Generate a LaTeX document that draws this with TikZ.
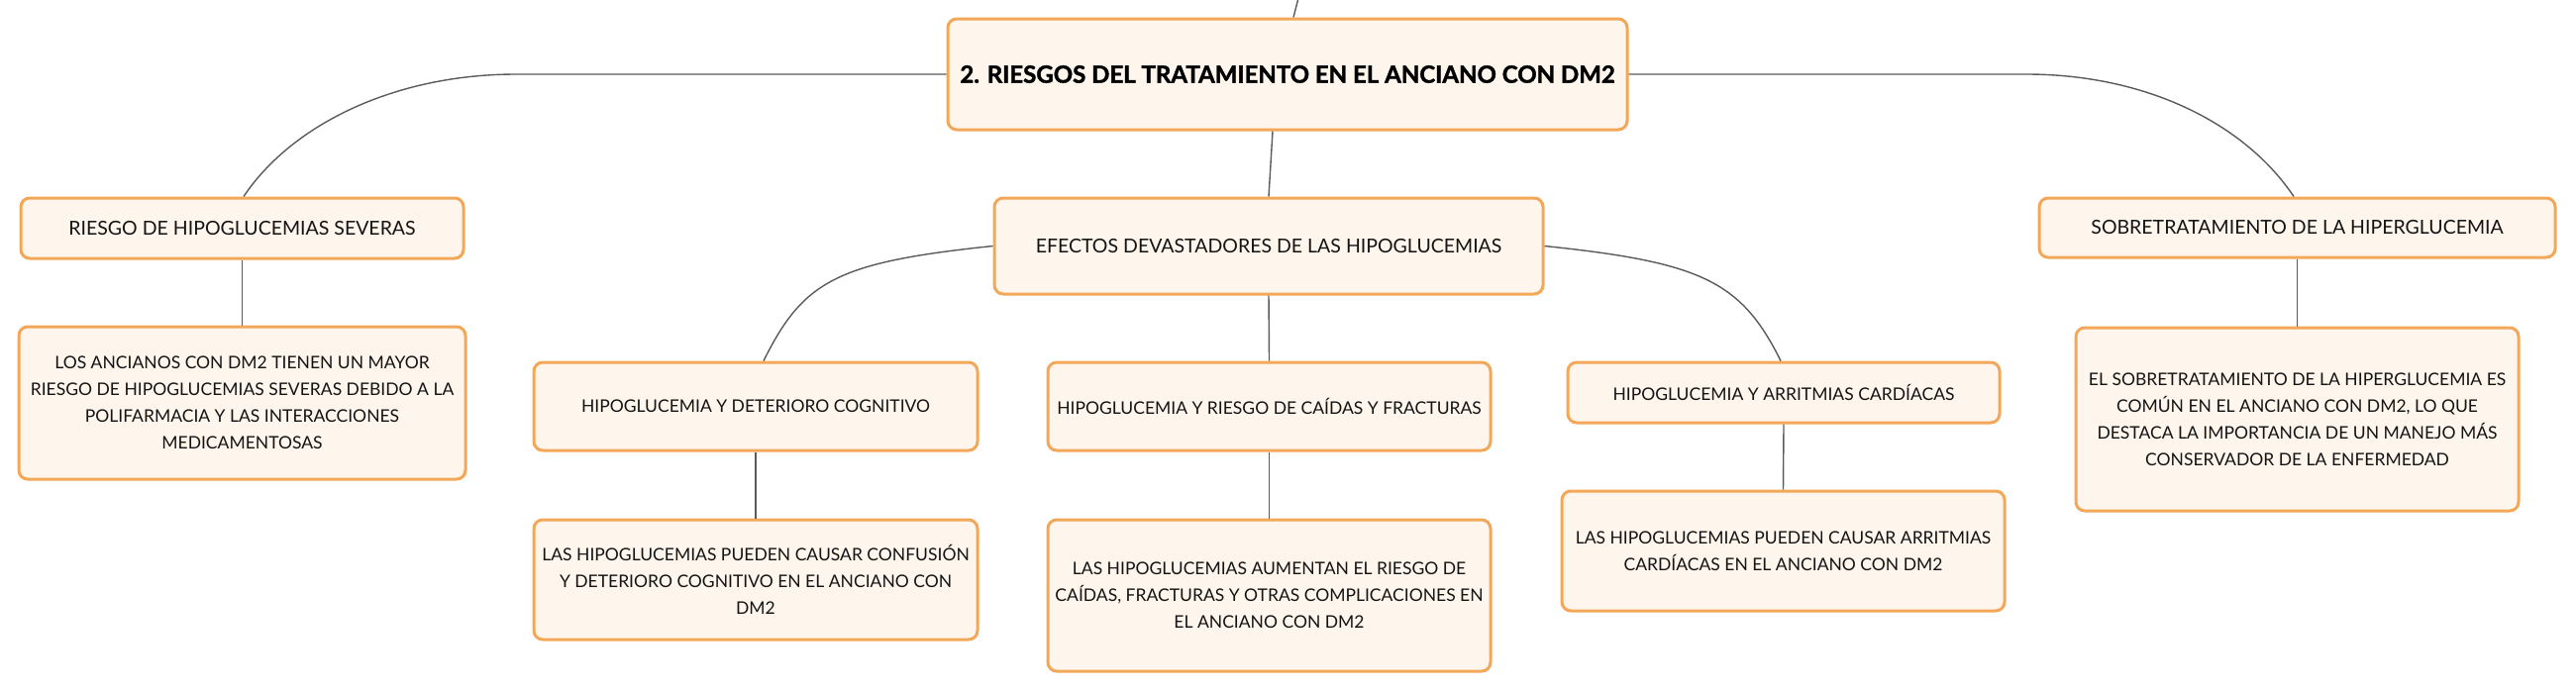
\documentclass[tikz,border=0pt]{standalone}
\usepackage{fontspec}
\setmainfont{Lato}
\definecolor{boxborder}{RGB}{243,167,88}
\definecolor{boxfill}{RGB}{254,245,236}
\definecolor{linegray}{RGB}{90,90,90}
\definecolor{txt}{RGB}{20,20,20}
\begin{document}
\begin{tikzpicture}[x=1pt,y=-1pt,
  box/.style={draw=boxborder, fill=boxfill, line width=3pt, rounded corners=9pt,
    inner sep=0pt, align=center, text=txt, font=\fontsize{17.5}{27}\selectfont},
  midbox/.style={box, font=\fontsize{19.5}{27}\selectfont},
  titlebox/.style={box, text=black, font=\fontsize{24}{28}\selectfont\bfseries\addfontfeature{FakeBold=1.6}},
  conn/.style={draw=linegray, line width=1.4pt}]
\useasboundingbox (0,0) rectangle (2601,699);

\node[titlebox, minimum width=686pt, minimum height=112pt] (main) at (1300,75)
  {2. RIESGOS DEL TRATAMIENTO EN EL ANCIANO CON DM2};
\node[midbox, minimum width=447pt, minimum height=61pt] (riesgo) at (244.5,230.5)
  {RIESGO DE HIPOGLUCEMIAS SEVERAS};
\node[box, minimum width=451pt, minimum height=154pt] (ancianos) at (244.5,407)
  {LOS ANCIANOS CON DM2 TIENEN UN MAYOR\\RIESGO DE HIPOGLUCEMIAS SEVERAS DEBIDO A LA\\POLIFARMACIA Y LAS INTERACCIONES\\MEDICAMENTOSAS};
\node[midbox, minimum width=554pt, minimum height=97pt] (efectos) at (1281,248.5)
  {EFECTOS DEVASTADORES DE LAS HIPOGLUCEMIAS};
\node[box, minimum width=448pt, minimum height=89pt] (deterioro) at (763,410.5)
  {HIPOGLUCEMIA Y DETERIORO COGNITIVO};
\node[box, minimum width=448pt, minimum height=121pt] (confusion) at (763,585.5)
  {LAS HIPOGLUCEMIAS PUEDEN CAUSAR CONFUSIÓN\\Y DETERIORO COGNITIVO EN EL ANCIANO CON\\DM2};
\node[box, minimum width=447pt, minimum height=89pt] (caidas) at (1281.5,410.5)
  {HIPOGLUCEMIA Y RIESGO DE CAÍDAS Y FRACTURAS};
\node[box, minimum width=447pt, minimum height=153pt] (aumentan) at (1281.5,601.5)
  {LAS HIPOGLUCEMIAS AUMENTAN EL RIESGO DE\\CAÍDAS, FRACTURAS Y OTRAS COMPLICACIONES EN\\EL ANCIANO CON DM2};
\node[box, minimum width=436pt, minimum height=61pt] (arritmias) at (1801,396.5)
  {HIPOGLUCEMIA Y ARRITMIAS CARDÍACAS};
\node[box, minimum width=447pt, minimum height=121pt] (arrtext) at (1800.5,556.5)
  {LAS HIPOGLUCEMIAS PUEDEN CAUSAR ARRITMIAS\\CARDÍACAS EN EL ANCIANO CON DM2};
\node[midbox, minimum width=521pt, minimum height=60pt] (sobre) at (2319.5,230)
  {SOBRETRATAMIENTO DE LA HIPERGLUCEMIA};
\node[box, minimum width=447pt, minimum height=185pt] (elsobre) at (2319.5,423.5)
  {EL SOBRETRATAMIENTO DE LA HIPERGLUCEMIA ES\\COMÚN EN EL ANCIANO CON DM2, LO QUE\\DESTACA LA IMPORTANCIA DE UN MANEJO MÁS\\CONSERVADOR DE LA ENFERMEDAD};

% connectors
\coordinate (up) at (1311,-2);
\draw[conn] (up) -- ([xshift=6pt]main.north);
\draw[conn] ([xshift=-15pt]main.south) -- (efectos.north);
\draw[conn] (main.west) -- (521,75) .. controls (401,75) and (296,124) .. ([xshift=1.5pt]riesgo.north);
\draw[conn] (main.east) -- (2046,75) .. controls (2166,75) and (2266,124) .. ([xshift=-3.5pt]sobre.north);
\draw[conn] (riesgo.south) -- (ancianos.north);
\draw[conn] (sobre.south) -- (elsobre.north);
\draw[conn] (efectos.west) .. controls (844,265) and (811,284) .. ([xshift=8pt]deterioro.north);
\draw[conn] (efectos.east) .. controls (1718,265) and (1758,284) .. ([xshift=-3pt]arritmias.north);
\draw[conn] (efectos.south) -- (caidas.north);
\draw[conn] (deterioro.south) -- (confusion.north);
\draw[conn] (caidas.south) -- (aumentan.north);
\draw[conn] (arritmias.south) -- (arrtext.north);
\end{tikzpicture}
\end{document}
